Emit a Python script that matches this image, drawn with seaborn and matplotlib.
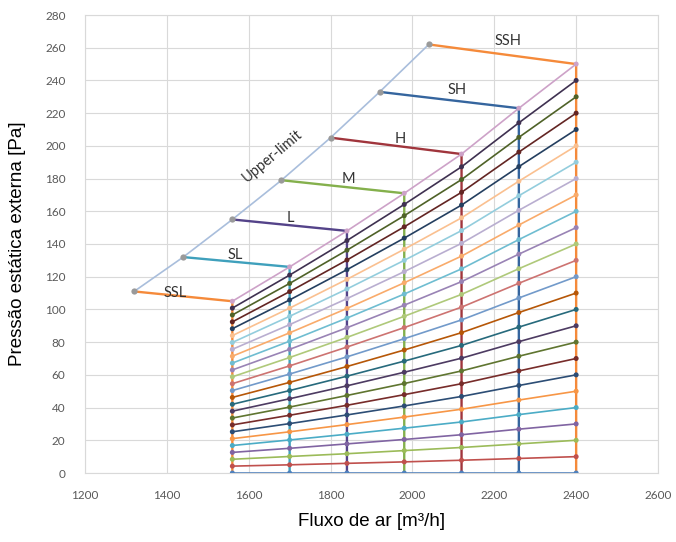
import numpy as np
import pandas as pd
import matplotlib
matplotlib.use("Agg")
import matplotlib.pyplot as plt
import seaborn as sns

# === Dados ===
fluxo = [1560, 1700, 1840, 1980, 2120, 2260, 2400]

# curvas de pressão (26 linhas, de baixo para cima), valores em cada fluxo
curvas = [
    [0, 0, 0, 0, 0, 0, 0],
    [4.2, 5.0, 5.9, 6.8, 7.8, 8.9, 10],
    [8.4, 10.1, 11.8, 13.7, 15.6, 17.8, 20],
    [12.6, 15.1, 17.8, 20.5, 23.4, 26.8, 30],
    [16.8, 20.2, 23.7, 27.4, 31.2, 35.7, 40],
    [21.0, 25.2, 29.6, 34.2, 39.0, 44.6, 50],
    [25.2, 30.2, 35.5, 41.0, 46.8, 53.5, 60],
    [29.4, 35.3, 41.4, 47.9, 54.6, 62.4, 70],
    [33.6, 40.3, 47.4, 54.7, 62.4, 71.4, 80],
    [37.8, 45.4, 53.3, 61.6, 70.2, 80.3, 90],
    [42.0, 50.4, 59.2, 68.4, 78.0, 89.2, 100],
    [46.2, 55.4, 65.1, 75.2, 85.8, 98.1, 110],
    [50.4, 60.5, 71.0, 82.1, 93.6, 107.0, 120],
    [54.6, 65.5, 77.0, 88.9, 101.4, 116.0, 130],
    [58.8, 70.6, 82.9, 95.8, 109.2, 124.9, 140],
    [63.0, 75.6, 88.8, 102.6, 117.0, 133.8, 150],
    [67.2, 80.6, 94.7, 109.4, 124.8, 142.7, 160],
    [71.4, 85.7, 100.6, 116.3, 132.6, 151.6, 170],
    [75.6, 90.7, 106.6, 123.1, 140.4, 160.6, 180],
    [79.8, 95.8, 112.5, 130.0, 148.2, 169.5, 190],
    [84.0, 100.8, 118.4, 136.8, 156.0, 178.4, 200],
    [88.2, 105.8, 124.3, 143.6, 163.8, 187.3, 210],
    [92.4, 110.9, 130.2, 150.5, 171.6, 196.2, 220],
    [96.6, 115.9, 136.2, 157.3, 179.4, 205.2, 230],
    [100.8, 121.0, 142.1, 164.2, 187.2, 214.1, 240],
    [105, 126, 148, 171, 195, 223, 250],
]

cores_curvas = [
    "#4F81BD", "#C0504D", "#9BBB59", "#8064A2", "#4BACC6", "#F79646",
    "#2C4D75", "#772C2A", "#5F7530", "#4D3B62", "#276A7C", "#B65708",
    "#729ACA", "#CD7371", "#AFC97A", "#9983B5", "#6FBDD1", "#F9AB6B",
    "#B9AED0", "#93CDDD", "#FAC090",
    "#243F60", "#632523", "#4F6228", "#3F3151",
    "#CDA2C8",
]

# velocidades: início no limite superior, fim na curva de topo
velocidades = ["SSL", "SL", "L", "M", "H", "SH", "SSH"]
vel_x_ini = [1320, 1440, 1560, 1680, 1800, 1920, 2040]
vel_y_ini = [111, 132, 155, 179, 205, 233, 262]
vel_y_fim = [105, 126, 148, 171, 195, 223, 250]
cores_vel = ["#F58A3A", "#3FA0BC", "#544389", "#84B04C", "#A0353C", "#35659E", "#F58A3A"]

# posição dos rótulos
rot_x = [1420, 1566, 1701, 1843, 1970, 2109, 2233]
rot_y = [110, 133, 156, 180, 204, 234, 264]

# === Montagem das tabelas ===
df_curvas = pd.DataFrame(
    [(i, x, y) for i, linha in enumerate(curvas) for x, y in zip(fluxo, linha)],
    columns=["curva", "fluxo", "pressao"],
)

linhas_vel = []
for k, nome in enumerate(velocidades):
    linhas_vel += [
        (nome, vel_x_ini[k], vel_y_ini[k]),
        (nome, fluxo[k], vel_y_fim[k]),
        (nome, fluxo[k], 0),
    ]
df_vel = pd.DataFrame(linhas_vel, columns=["vel", "fluxo", "pressao"])
df_lim = pd.DataFrame({"fluxo": vel_x_ini, "pressao": vel_y_ini})

# === Gráfico ===
sns.set_style("whitegrid", {"grid.color": "#D9D9D9"})
plt.rcParams["font.family"] = ["Liberation Sans", "DejaVu Sans"]
fonte_excel = ["Lato", "DejaVu Sans"]

fig = plt.figure(figsize=(6.76, 5.42), dpi=100)
ax = fig.add_axes([85 / 676, 69 / 542, 573 / 676, 458 / 542])

# linhas das curvas (sem marcadores)
sns.lineplot(
    data=df_curvas, x="fluxo", y="pressao", hue="curva", palette=cores_curvas,
    linewidth=1.2, sort=False, estimator=None, legend=False, ax=ax, zorder=2,
)
# linhas de velocidade (horizontal + vertical)
sns.lineplot(
    data=df_vel, x="fluxo", y="pressao", hue="vel",
    palette=dict(zip(velocidades, cores_vel)), sort=False, estimator=None,
    linewidth=1.7, legend=False, ax=ax, zorder=3,
)
# marcadores das curvas
sns.scatterplot(
    data=df_curvas, x="fluxo", y="pressao", hue="curva", palette=cores_curvas,
    s=13, linewidth=0, legend=False, ax=ax, zorder=4,
)
# limite superior
sns.lineplot(
    data=df_lim, x="fluxo", y="pressao", color="#A9BEDC", linewidth=1.2,
    marker="o", markersize=4.5, markerfacecolor="#9A9A9A", markeredgewidth=0,
    sort=False, estimator=None, ax=ax, zorder=4,
)

for k, nome in enumerate(velocidades):
    ax.text(rot_x[k], rot_y[k], nome, ha="center", va="center", fontsize=10.5,
            color="#333333", family=fonte_excel, zorder=5)
ax.text(1659, 194, "Upper-limit", ha="center", va="center", rotation=40,
        fontsize=10.5, color="#333333", family=fonte_excel, zorder=5)

ax.set_xlim(1200, 2600)
ax.set_ylim(0, 280)
ax.set_xticks(range(1200, 2601, 200))
ax.set_yticks(range(0, 281, 20))
ax.tick_params(axis="both", length=0, labelsize=8.5, labelcolor="#595959")
ax.tick_params(axis="x", pad=12)
ax.tick_params(axis="y", pad=14)
for lbl in ax.get_xticklabels() + ax.get_yticklabels():
    lbl.set_family(fonte_excel)
for s in ax.spines.values():
    s.set_color("#D9D9D9")
    s.set_linewidth(0.8)
ax.grid(True, color="#D9D9D9", linewidth=0.8)

ax.set_xlabel("Fluxo de ar [m³/h]", fontsize=13.5, color="black")
ax.set_ylabel("Pressão estática externa [Pa]", fontsize=13.5, color="black")
ax.xaxis.set_label_coords(0.5, -0.087)
ax.yaxis.set_label_coords(-0.103, 0.5)

fig.savefig("out.png", dpi=100, facecolor="white")
